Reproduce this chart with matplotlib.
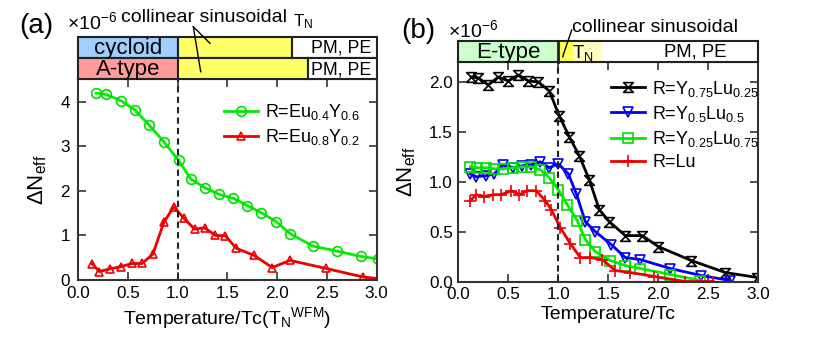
import matplotlib
matplotlib.use("Agg")
import matplotlib.pyplot as plt
from matplotlib.patches import Rectangle
from matplotlib.path import Path
import numpy as np

plt.rcParams['font.family'] = ['Liberation Sans', 'DejaVu Sans']
plt.rcParams['mathtext.default'] = 'regular'

# ---------------- data ----------------
# panel (a)
a_green_x = [0.18, 0.28, 0.43, 0.57, 0.71, 0.86, 1.01, 1.13, 1.27, 1.42, 1.56, 1.70, 1.84, 1.99, 2.13, 2.36, 2.60, 2.84, 3.02]
a_green_y = [4.19, 4.16, 4.02, 3.81, 3.48, 3.10, 2.68, 2.27, 2.07, 1.92, 1.83, 1.67, 1.51, 1.31, 1.04, 0.76, 0.65, 0.53, 0.47]
a_red_x = [0.14, 0.21, 0.32, 0.43, 0.54, 0.64, 0.75, 0.86, 0.96, 1.06, 1.17, 1.27, 1.38, 1.48, 1.59, 1.77, 1.95, 2.13, 2.49, 2.86, 3.02]
a_red_y = [0.36, 0.19, 0.25, 0.30, 0.37, 0.37, 0.58, 1.29, 1.64, 1.39, 1.14, 1.17, 1.00, 0.99, 0.71, 0.55, 0.28, 0.44, 0.26, 0.07, 0.03]
a_labels = [r'R=Eu$_{0.4}$Y$_{0.6}$', r'R=Eu$_{0.8}$Y$_{0.2}$']

# panel (b)
b_black_x = [0.13, 0.20, 0.30, 0.40, 0.50, 0.60, 0.70, 0.80, 0.91, 1.01, 1.11, 1.21, 1.31, 1.41, 1.51, 1.67, 1.84, 2.00, 2.33, 2.67, 2.99]
b_black_y = [2.05, 2.04, 1.97, 2.05, 2.01, 2.07, 2.01, 2.00, 1.91, 1.66, 1.45, 1.26, 1.02, 0.72, 0.60, 0.46, 0.46, 0.35, 0.21, 0.09, 0.04]
b_blue_x = [0.12, 0.18, 0.28, 0.36, 0.45, 0.55, 0.64, 0.73, 0.82, 0.91, 1.00, 1.10, 1.18, 1.27, 1.37, 1.53, 1.67, 1.82, 2.12, 2.43, 2.72]
b_blue_y = [1.08, 1.05, 1.06, 1.08, 1.17, 1.14, 1.16, 1.17, 1.20, 1.14, 1.18, 1.08, 0.88, 0.60, 0.50, 0.37, 0.24, 0.22, 0.13, 0.06, 0.01]
b_green_x = [0.12, 0.19, 0.28, 0.36, 0.45, 0.55, 0.64, 0.73, 0.82, 0.91, 1.00, 1.09, 1.19, 1.27, 1.37, 1.52, 1.67, 1.82, 2.12, 2.42]
b_green_y = [1.15, 1.14, 1.14, 1.13, 1.13, 1.14, 1.15, 1.15, 1.12, 1.04, 0.92, 0.77, 0.61, 0.42, 0.30, 0.21, 0.16, 0.13, 0.07, 0.01]
b_red_x = [0.12, 0.18, 0.26, 0.35, 0.43, 0.53, 0.61, 0.69, 0.78, 0.87, 0.93, 1.02, 1.12, 1.22, 1.32, 1.44, 1.57, 1.72, 1.96, 2.27, 2.55]
b_red_y = [0.81, 0.87, 0.85, 0.87, 0.87, 0.91, 0.87, 0.91, 0.91, 0.81, 0.72, 0.54, 0.38, 0.24, 0.24, 0.22, 0.11, 0.09, 0.05, 0.00, 0.00]
b_labels = [r'R=Y$_{0.75}$Lu$_{0.25}$', r'R=Y$_{0.5}$Lu$_{0.5}$', r'R=Y$_{0.25}$Lu$_{0.75}$', 'R=Lu']

W, H = 830, 338
fig = plt.figure(figsize=(W/100, H/100), dpi=100)

def fx(px):
    return px / W
def fy(py):
    return 1 - py / H

SPC = '#333333'
FS = 14
TFS = 12.3
LFS = 13

def style(ax):
    for s in ax.spines.values():
        s.set_linewidth(1.5)
        s.set_color(SPC)
    ax.tick_params(direction='in', length=6, width=1.2, top=True, right=True,
                   labelsize=TFS, color=SPC, pad=4)

# ---- panel (a) ----
axa = fig.add_axes([fx(78.3), fy(280), (376.5-78.3)/W, (280-79.3)/H])
mk = dict(markerfacecolor='none', markeredgewidth=1.2)
axa.plot(a_green_x, a_green_y, color='#00ee00', lw=2, marker='o', ms=7, markeredgecolor='#00dd00',
         label=a_labels[0], **mk)
axa.plot(a_red_x, a_red_y, color='#ee0000', lw=2, marker='^', ms=6, markeredgecolor='#ee0000',
         label=a_labels[1], **mk)
axa.axvline(1.0, color='#222222', lw=1.5, ls=(0, (3, 2)))
axa.set_xlim(0, 3)
axa.set_ylim(0, 4.5)
axa.set_xticks(np.arange(0, 3.01, 0.5))
axa.set_xticklabels(['0.0', '0.5', '1.0', '1.5', '2.0', '2.5', '3.0'])
axa.set_yticks([0, 1, 2, 3, 4])
style(axa)
axa.tick_params(axis='y', pad=6)
axa.legend(loc='upper left', bbox_to_anchor=(0.458, 0.93), frameon=False, fontsize=LFS,
           handlelength=1.9, handletextpad=0.4, labelspacing=0.28, borderpad=0)
axa.set_xlabel(r'Temperature/Tc(T$_N$$^{WFM}$)', fontsize=FS, labelpad=3)
axa.set_ylabel(r'$\Delta$N$_{eff}$', fontsize=FS + 2, labelpad=8)

# phase bars (a)
bara = fig.add_axes([fx(78.3), fy(79.3), (376.5-78.3)/W, (79.3-36.7)/H])
bara.set_xlim(0, 3)
bara.set_ylim(0, 2)
bara.axis('off')
ec = '#222222'
rows_a = [
    (1, [(0, 1.0, '#a0cfff'), (1.0, 2.147, '#ffff66'), (2.147, 3.0, 'white')], 'cycloid'),
    (0, [(0, 1.0, '#ff9b9b'), (1.0, 2.314, '#ffff66'), (2.314, 3.0, 'white')], 'A-type'),
]
for yb, segs, name in rows_a:
    for x0, x1, c in segs:
        bara.add_patch(Rectangle((x0, yb), x1 - x0, 1, facecolor=c, edgecolor=ec, lw=1.5, clip_on=False))
    bara.text(0.5, yb + 0.45, name, ha='center', va='center', fontsize=FS + 2)
    bara.text(2.95, yb + 0.45, 'PM, PE', ha='right', va='center', fontsize=TFS + 0.5)

# ---- panel (b) ----
axb = fig.add_axes([fx(458.3), fy(281.5), 300/W, (281.5-62)/H])
hourglass = Path([(-1, 1), (1, 1), (-1, -1), (1, -1), (-1, 1)],
                 [Path.MOVETO, Path.LINETO, Path.LINETO, Path.LINETO, Path.CLOSEPOLY])
axb.plot(b_black_x, b_black_y, color='black', lw=2, marker=hourglass, ms=7, markeredgecolor='black',
         label=b_labels[0], **mk)
axb.plot(b_blue_x, b_blue_y, color='#0000ee', lw=2, marker='v', ms=7, markeredgecolor='#0000ee',
         label=b_labels[1], **mk)
axb.plot(b_green_x, b_green_y, color='#00ee00', lw=2, marker='s', ms=6.5, markeredgecolor='#00dd00',
         label=b_labels[2], **mk)
axb.plot(b_red_x, b_red_y, color='#ee0000', lw=2, marker='+', ms=9, markeredgecolor='#ee0000',
         markeredgewidth=1.2, label=b_labels[3])
axb.axvline(1.0, color='#222222', lw=1.5, ls=(0, (3, 2)))
axb.set_xlim(0, 3)
axb.set_ylim(0, 2.2)
axb.set_xticks(np.arange(0, 3.01, 0.5))
axb.set_xticklabels(['0.0', '0.5', '1.0', '1.5', '2.0', '2.5', '3.0'])
axb.set_yticks([0, 0.5, 1.0, 1.5, 2.0])
axb.set_yticklabels(['0.0', '0.5', '1.0', '1.5', '2.0'])
style(axb)
axb.legend(loc='upper left', bbox_to_anchor=(0.478, 0.965), frameon=False, fontsize=LFS,
           handlelength=1.9, handletextpad=0.4, labelspacing=0.28, borderpad=0)
axb.set_xlabel('Temperature/Tc', fontsize=FS, labelpad=3)
axb.set_ylabel(r'$\Delta$N$_{eff}$', fontsize=FS + 2, labelpad=8)

# phase bar (b)
barb = fig.add_axes([fx(458.3), fy(62), 300/W, (62-40.7)/H])
barb.set_xlim(0, 3)
barb.set_ylim(0, 1)
barb.axis('off')
barb.add_patch(Rectangle((0, 0), 3, 1, facecolor='white', edgecolor='none'))
barb.add_patch(Rectangle((0, 0), 1.0, 1, facecolor='#ccffcc', edgecolor='none'))
barb.add_patch(Rectangle((1.0, 0), 0.15, 1, facecolor='#ffff55', edgecolor='none'))
barb.add_patch(Rectangle((1.15, 0), 0.28, 1, facecolor='#ffffdd', edgecolor='#ffff88', hatch='//////', lw=0))
barb.add_patch(Rectangle((0, 0), 3, 1, facecolor='none', edgecolor=ec, lw=1.5, clip_on=False))
barb.plot([1.0, 1.0], [0, 1], color=ec, lw=2, clip_on=False)
barb.text(0.5, 0.45, 'E-type', ha='center', va='center', fontsize=FS + 2)
barb.text(2.37, 0.45, 'PM, PE', ha='center', va='center', fontsize=TFS + 1)
barb.text(1.25, 0.4, r'T$_N$', ha='center', va='center', fontsize=TFS + 1)

# annotations
fig.text(fx(36), fy(26), '(a)', fontsize=20, ha='center', va='center')
fig.text(fx(418), fy(31), '(b)', fontsize=20, ha='center', va='center')
fig.text(fx(67), fy(22), r'$\times$10$^{-6}$', fontsize=FS, ha='left', va='center')
fig.text(fx(448), fy(30), r'$\times$10$^{-6}$', fontsize=FS, ha='left', va='center')
fig.text(fx(204), fy(18), 'collinear sinusoidal', fontsize=FS, ha='center', va='center')
fig.text(fx(655), fy(28), 'collinear sinusoidal', fontsize=FS, ha='center', va='center')
fig.text(fx(303), fy(22), r'T$_N$', fontsize=TFS, ha='center', va='center')

def fline(p0, p1):
    fig.add_artist(plt.Line2D([fx(p0[0]), fx(p1[0])], [fy(p0[1]), fy(p1[1])],
                              transform=fig.transFigure, color='black', lw=1))
fline((193.3, 26.7), (210, 43.3))
fline((193.3, 26.7), (200.7, 71.7))
fline((571.7, 30), (562.7, 56.7))

fig.savefig('out.png', dpi=100)
